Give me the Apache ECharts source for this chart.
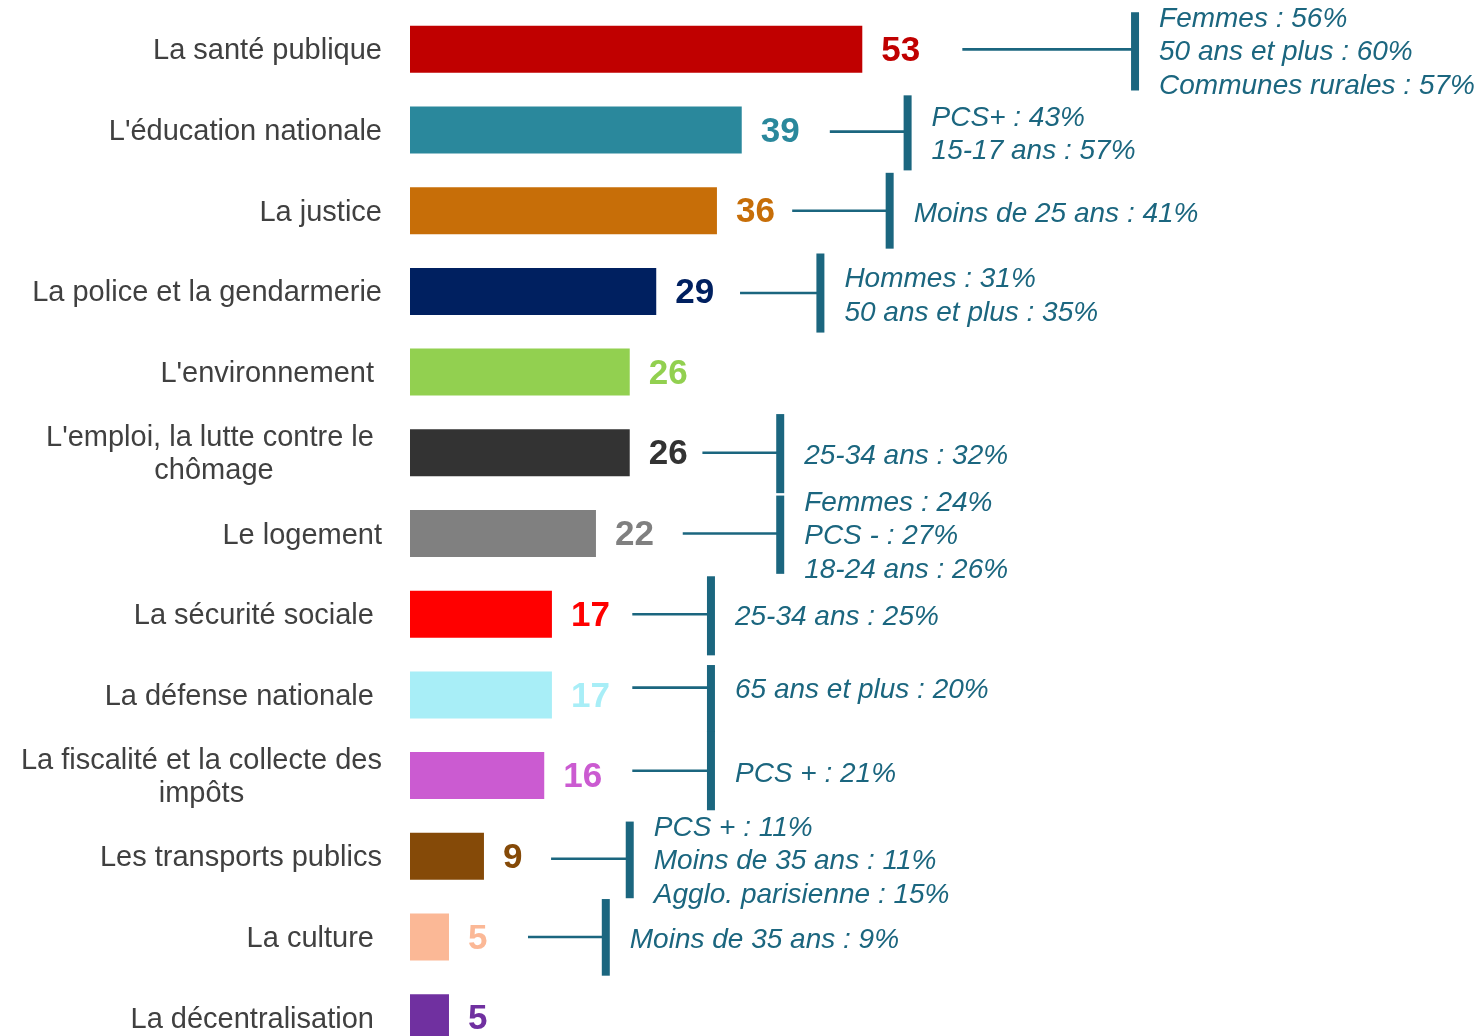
<!DOCTYPE html>
<html>
<head>
<meta charset="utf-8">
<script src="https://cdn.jsdelivr.net/npm/echarts@6/dist/echarts.min.js"></script>
<style>
html,body{margin:0;padding:0;background:#fff;}
#chart{width:1481px;height:1036px;}
</style>
</head>
<body>
<div id="chart"></div>
<script>
// ---- data ----
const categories = [
  "La santé publique",
  "L'éducation nationale",
  "La justice",
  "La police et la gendarmerie",
  "L'environnement ",
  "L'emploi, la lutte contre le \nchômage",
  "Le logement",
  "La sécurité sociale ",
  "La défense nationale ",
  "La fiscalité et la collecte des\nimpôts",
  "Les transports publics",
  "La culture ",
  "La décentralisation "
];
const values = [52.9, 38.8, 35.9, 28.8, 25.7, 25.7, 21.75, 16.6, 16.6, 15.7, 8.65, 4.56, 4.56];
const barColors = ['#C00000','#2A889C','#C76E08','#002060','#92D050','#333333','#808080','#FF0000','#A8EEF7','#CB5BD1','#854A08','#FBB896','#7030A0'];

// annotation call-outs (row index, connector start, bracket position in value units)
const annoRows      = [0, 1, 2, 3, 5, 6, 7, 8, 9, 10, 11];
const annoLineStart = [64.6, 49.1, 44.7, 38.6, 34.2, 31.9, 26.0, 26.0, 26.0, 16.5, 13.8];
const annoBracketX  = [84.8, 58.2, 56.1, 48.0, 43.3, 43.3, 35.2, 35.2, 35.2, 25.7, 22.9];
const annoSpanTop   = [-0.46, -0.43, -0.47, -0.47, -0.48, -0.47, -0.47, -0.37, -0.55, -0.43, -0.47];
const annoSpanBot   = [0.51, 0.50, 0.47, 0.51, 0.50, 0.50, 0.51, 0.46, 0.43, 0.52, 0.48];
const annoDy        = [0.0, 0.02, 0.0, 0.02, 0.0, 0.0, 0.0, -0.09, -0.06, 0.03, 0.0];
const annoTexts = [
  ["Femmes : 56%", "50 ans et plus : 60%", "Communes rurales : 57%"],
  ["PCS+ : 43%", "15-17 ans : 57%"],
  ["Moins de 25 ans : 41%"],
  ["Hommes : 31%", "50 ans et plus : 35%"],
  ["25-34 ans : 32%"],
  ["Femmes : 24%", "PCS - : 27%", "18-24 ans : 26%"],
  ["25-34 ans : 25%"],
  ["65 ans et plus : 20%"],
  ["PCS + : 21%"],
  ["PCS + : 11%", "Moins de 35 ans : 11%", "Agglo. parisienne : 15%"],
  ["Moins de 35 ans : 9%"]
];

const FONT = "'Liberation Sans', Arial, sans-serif";
const TEAL = '#1B667F';

const chart = echarts.init(document.getElementById('chart'), null, {renderer: 'canvas'});

const barData = values.map((v, i) => ({
  value: v,
  itemStyle: {color: barColors[i]},
  label: {color: barColors[i]}
}));

const annoData = annoRows.map((r, i) => [r, annoLineStart[i], annoBracketX[i]]);

const option = {
  animation: false,
  backgroundColor: '#ffffff',
  grid: {left: 410, top: 9, width: 855, height: 1049, containLabel: false, outerBoundsMode: 'none'},
  xAxis: {
    type: 'value', min: 0, max: 100, show: false
  },
  yAxis: {
    type: 'category',
    inverse: true,
    data: categories,
    axisLine: {show: false},
    axisTick: {show: false},
    splitLine: {show: false},
    axisLabel: {
      margin: 28,
      color: '#404040',
      fontFamily: FONT,
      fontSize: 29,
      align: 'right',
      padding: [4, 0, 0, 0],
      formatter: function (val) {
        return val.split('\n').map(l => '{c|' + l + '}').join('\n');
      },
      rich: {
        c: {align: 'center', fontFamily: FONT, fontSize: 29, color: '#404040', lineHeight: 33}
      }
    }
  },
  series: [
    {
      type: 'bar',
      data: barData,
      barWidth: 47,
      label: {
        show: true,
        position: 'right',
        distance: 19,
        offset: [0, 2],
        fontFamily: FONT,
        fontWeight: 'bold',
        fontSize: 35,
        formatter: p => Math.round(p.value)
      },
      z: 2
    },
    {
      type: 'custom',
      data: annoData,
      encode: {y: 0, x: [1, 2]},
      clip: false,
      z: 3,
      renderItem: function (params, api) {
        const i = params.dataIndex;
        const row = api.value(0);
        const band = api.size([0, 1])[1];
        const c = api.coord([api.value(1), row]);
        const b = api.coord([api.value(2), row]);
        const cy = c[1] + annoDy[i] * band;
        const top = c[1] + annoSpanTop[i] * band;
        const bot = c[1] + annoSpanBot[i] * band;
        return {
          type: 'group',
          children: [
            {type: 'line', shape: {x1: c[0], y1: cy, x2: b[0], y2: cy},
             style: {stroke: TEAL, lineWidth: 2.6}},
            {type: 'rect', shape: {x: b[0] - 4, y: top, width: 8, height: bot - top},
             style: {fill: TEAL}},
            {type: 'text',
             style: {
               text: annoTexts[i].join('\n'),
               x: b[0] + 24, y: cy + 3,
               fill: TEAL,
               font: 'italic 28px ' + FONT,
               align: 'left', verticalAlign: 'middle',
               lineHeight: 33.5
             }}
          ]
        };
      }
    }
  ]
};
chart.setOption(option);
</script>
</body>
</html>
